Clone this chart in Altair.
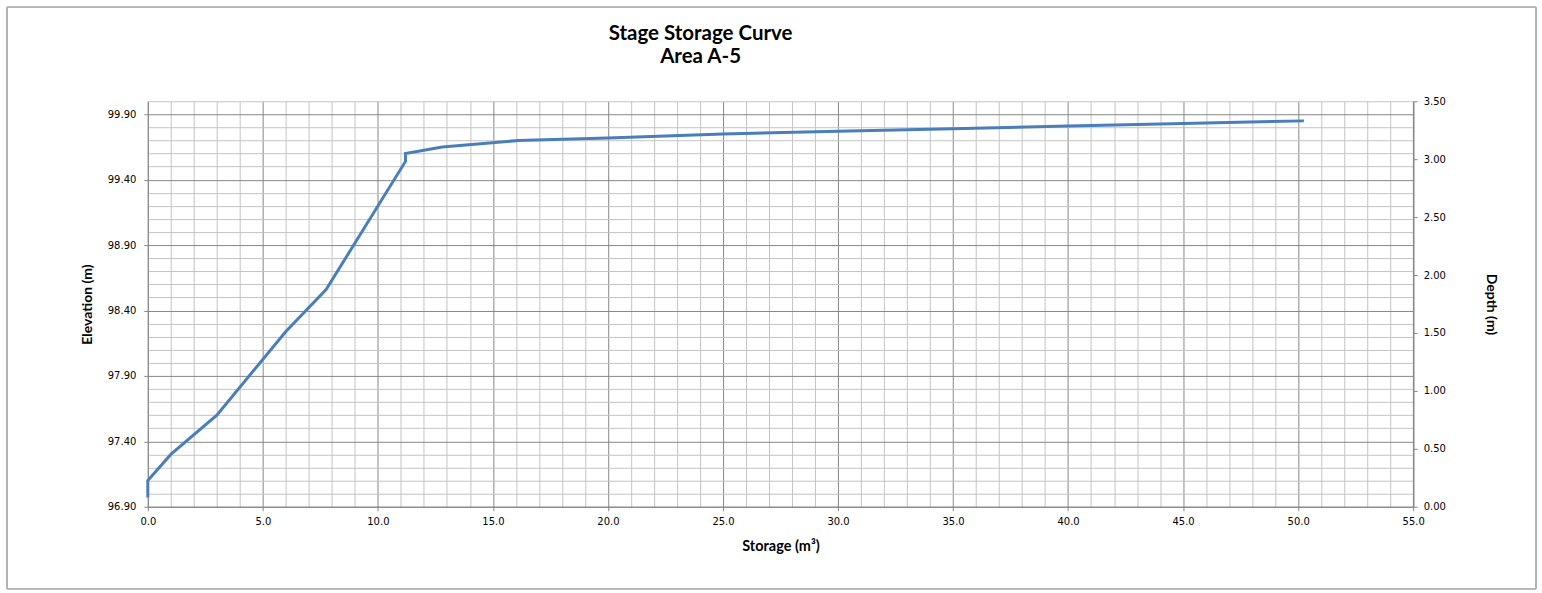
import altair as alt
import pandas as pd

# Stage-storage relationship for Area A-5
storage_m3 = [0.0, 0.0, 1.0, 3.0, 6.0, 7.75, 11.2, 11.2, 12.8, 16.1, 20.0,
              25.0, 30.0, 35.0, 40.0, 45.0, 50.25]
elevation_m = [96.97, 97.10, 97.30, 97.60, 98.24, 98.56, 99.54, 99.60, 99.65,
               99.70, 99.72, 99.75, 99.77, 99.79, 99.81, 99.83, 99.85]

# Axis ranges and tick positions
elev_domain = [96.9, 100.0]
elev_ticks = [round(96.9 + 0.1 * i, 1) for i in range(32)]       # minor every 0.1 m
storage_domain = [0.0, 55.0]
storage_ticks = [float(i) for i in range(56)]                      # minor every 1 m3
depth_domain = [0.0, 3.5]
depth_ticks = [0.0, 0.5, 1.0, 1.5, 2.0, 2.5, 3.0, 3.5]

curve = pd.DataFrame({"order": range(len(storage_m3)),
                      "storage": storage_m3,
                      "elevation": elevation_m})
depth_df = pd.DataFrame({"depth": depth_domain})

MAJOR_GRID = "#878787"
MINOR_GRID = "#c4c4c4"
LABEL_FONT = "DejaVu Sans"
TITLE_FONT = "Lato"

is_major_y = "abs((datum.value - 96.9) / 0.5 - round((datum.value - 96.9) / 0.5)) < 0.01"
is_major_x = "abs(datum.value / 5 - round(datum.value / 5)) < 0.01"

x_enc = alt.X(
    "storage:Q",
    scale=alt.Scale(domain=storage_domain, nice=False, zero=False),
    axis=alt.Axis(
        values=storage_ticks,
        labelExpr=f"{is_major_x} ? format(datum.value, '.1f') : ''",
        labelFlush=False,
        labelOverlap=False,
        title="Storage (m³)",
        grid=True,
        gridColor={"condition": {"test": is_major_x, "value": MAJOR_GRID}, "value": MINOR_GRID},
        gridWidth=1,
        tickSize=4,
        tickColor=MAJOR_GRID,
        tickOpacity={"condition": {"test": is_major_x, "value": 1}, "value": 0},
        domainColor=MAJOR_GRID,
        labelFont=LABEL_FONT, labelFontSize=10, labelColor="#000000",
        labelPadding=6,
        titleFont=TITLE_FONT, titleFontSize=14.5, titleFontWeight="bold",
        titleColor="#000000", titlePadding=13,
    ),
)

y_enc = alt.Y(
    "elevation:Q",
    scale=alt.Scale(domain=elev_domain, nice=False, zero=False),
    axis=alt.Axis(
        values=elev_ticks,
        labelExpr=f"{is_major_y} ? format(datum.value, '.2f') : ''",
        labelFlush=False,
        labelOverlap=False,
        title="Elevation (m)",
        grid=True,
        gridColor={"condition": {"test": is_major_y, "value": MAJOR_GRID}, "value": MINOR_GRID},
        gridWidth=1,
        tickSize=4,
        tickColor=MAJOR_GRID,
        tickOpacity={"condition": {"test": is_major_y, "value": 1}, "value": 0},
        domainColor=MAJOR_GRID,
        labelFont=LABEL_FONT, labelFontSize=10, labelColor="#000000",
        labelPadding=8,
        titleFont=TITLE_FONT, titleFontSize=14, titleFontWeight="bold",
        titleColor="#000000", titlePadding=13,
    ),
)

line = alt.Chart(curve).mark_line(color="#4a7ebb", strokeWidth=3).encode(
    x=x_enc, y=y_enc, order="order:Q"
)

# Outer frame of the chart area
frame = alt.Chart(curve).mark_rect(
    fill=None, stroke="#b4b4b4", strokeWidth=1, clip=False
).encode(
    x=alt.value(-141), x2=alt.value(1390),
    y=alt.value(-94), y2=alt.value(488),
)

depth_axis = alt.Chart(depth_df).mark_point(opacity=0).encode(
    y=alt.Y(
        "depth:Q",
        scale=alt.Scale(domain=depth_domain, nice=False, zero=False),
        axis=alt.Axis(
            orient="right",
            values=depth_ticks,
            format=".2f",
            labelFlush=False,
            labelOverlap=False,
            title="Depth (m)",
            grid=False,
            tickSize=4,
            tickColor=MAJOR_GRID,
            domainColor=MAJOR_GRID,
            domainWidth=1.5,
            labelFont=LABEL_FONT, labelFontSize=10, labelColor="#000000",
            labelPadding=6,
            titleFont=TITLE_FONT, titleFontSize=14, titleFontWeight="bold",
            titleColor="#000000", titlePadding=38,
        ),
    )
)

chart = (
    alt.layer(alt.layer(frame, line), depth_axis)
    .resolve_scale(y="independent")
    .properties(
        width=1267,
        height=406,
        padding={"left": 6, "top": 6, "right": 5, "bottom": 5},
        title=alt.TitleParams(
            text=["Stage Storage Curve", "Area A-5"],
            font=TITLE_FONT, fontSize=20.5, fontWeight="bold", color="#000000",
            anchor="middle", dx=-80, offset=-61, lineHeight=23,
        ),
    )
    .configure_view(stroke=None)
)

chart.save("out.html", embed_options={"renderer": "svg", "actions": False})
